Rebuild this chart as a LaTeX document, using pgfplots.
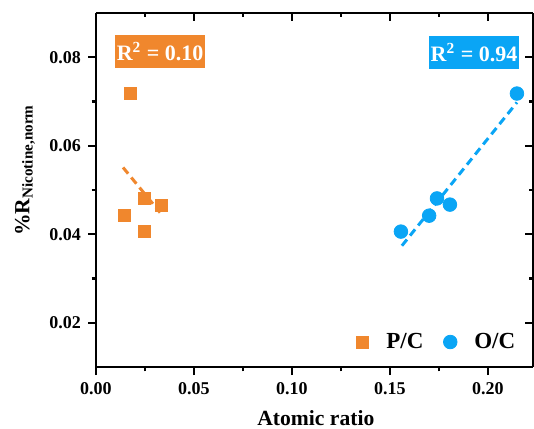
\documentclass[border=0pt]{standalone}
\usepackage{fontspec}
\setmainfont{Liberation Serif}
\usepackage{pgfplots}
\pgfplotsset{compat=1.18}
\definecolor{pcorange}{RGB}{240,135,45}
\definecolor{ocblue}{RGB}{10,165,245}

\pgfplotsset{
  common/.style={
    scale only axis, width=218.5pt, height=177pt,
    at={(0,0)}, anchor=south west,
    xmin=0, xmax=0.223, ymin=0.01, ymax=0.09,
    xtick={0,0.05,0.10,0.15,0.20}, ytick={0.02,0.04,0.06,0.08},
    minor x tick num=1, minor y tick num=1,
    major tick length=4pt, minor tick length=2.2pt,
    every tick/.style={black, line width=1.1pt},
    axis line style={line width=1.2pt},
    scaled ticks=false,
  }
}

\begin{document}
\begin{tikzpicture}
\useasboundingbox (-48pt,-30.5pt) rectangle (219pt,183.5pt);
% top and right spines, ticks inward
\begin{axis}[common, axis x line*=top, axis y line*=right, tick align=inside,
  xticklabels={}, yticklabels={}]
\end{axis}
\begin{axis}[common, axis x line*=bottom, axis y line*=left, tick align=outside,
  /pgf/number format/assume math mode=true,
  ticklabel style={font=\bfseries\fontsize{9}{10}\selectfont},
  x tick label style={/pgf/number format/fixed, /pgf/number format/fixed zerofill, /pgf/number format/precision=2},
  y tick label style={/pgf/number format/fixed, /pgf/number format/fixed zerofill, /pgf/number format/precision=2},
  label style={font=\bfseries\fontsize{10.8}{12}\selectfont},
  xlabel={Atomic ratio},
  xlabel style={at={(axis description cs:0.503,-0.144)}, anchor=center},
  ylabel={\%R\textsubscript{Nicotine,norm}},
  ylabel style={at={(axis description cs:-0.1625,0.556)}, anchor=center},
  legend columns=2,
  legend style={draw=none, fill=none, inner sep=0pt,
    at={(axis description cs:0.595,0.0706)}, anchor=west,
    font=\bfseries\fontsize{11.5}{12}\selectfont,
    /tikz/every even column/.append style={column sep=8pt}},
  legend image code/.code={%
    \path[draw=none, fill=none] (2pt,0pt) -- (15pt,0pt);
    \draw[#1, /tikz/only marks] plot coordinates {(5pt,0pt)};},
]
% linear fits
\addplot[forget plot, pcorange, line width=1.5pt, dash pattern=on 4pt off 2.5pt] coordinates {(0.0138,0.0551)(0.0327,0.0449)};
\addplot[forget plot, ocblue, line width=1.5pt, dash pattern=on 4pt off 2.5pt] coordinates {(0.1561,0.0374)(0.2148,0.0698)};
% data
\addplot[only marks, mark=square*, mark size=3pt, color=pcorange] coordinates {
  (0.0173,0.0718)(0.0245,0.0481)(0.0332,0.0465)(0.0143,0.0442)(0.0245,0.0406)};
\addlegendentry{P/C}
\addplot[only marks, mark=*, mark size=3.4pt, color=ocblue] coordinates {
  (0.1556,0.0406)(0.1700,0.0442)(0.1740,0.0481)(0.1806,0.0467)(0.2148,0.0718)};
\addlegendentry{O/C}
\node[fill=pcorange, text=white, font=\bfseries\fontsize{11}{12}\selectfont, minimum width=45pt, minimum height=16.5pt, inner sep=0pt] at (axis cs:0.0327,0.0812) {R\textsuperscript{2} = 0.10};
\node[fill=ocblue, text=white, font=\bfseries\fontsize{11}{12}\selectfont, minimum width=45pt, minimum height=16.5pt, inner sep=0pt] at (axis cs:0.1929,0.0810) {R\textsuperscript{2} = 0.94};
\end{axis}
\end{tikzpicture}
\end{document}
